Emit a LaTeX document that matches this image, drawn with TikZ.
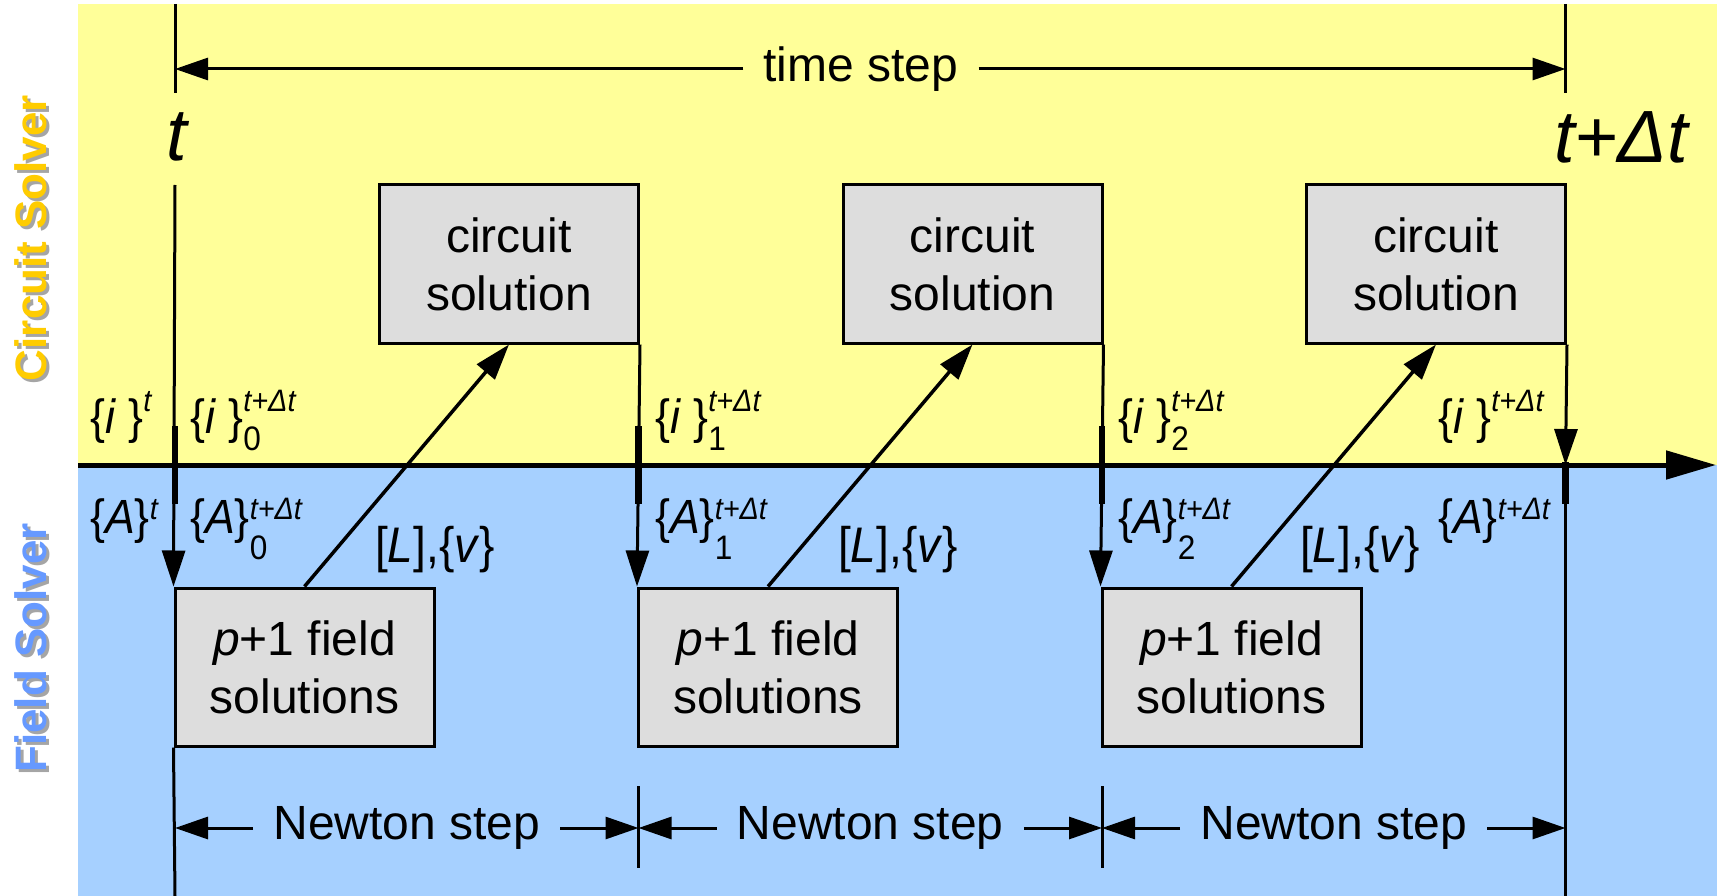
\documentclass[tikz,border=0pt]{standalone}
\usepackage{fontspec}
\setmainfont{Liberation Sans}
\usetikzlibrary{arrows.meta}
\definecolor{bgyellow}{RGB}{255,255,153}
\definecolor{bgblue}{RGB}{166,208,255}
\definecolor{boxgray}{RGB}{221,221,221}
\definecolor{circtext}{RGB}{255,204,0}
\definecolor{fieldtext}{RGB}{102,153,255}
\definecolor{shadowgray}{RGB}{165,165,165}
\newcommand\fsz[1]{\fontsize{#1}{#1}\selectfont}
\newcommand\lsup[2]{\raisebox{#1pt}{\fsz{31}\textit{#2}}}
\newcommand\lsupsub[4]{\rlap{\raisebox{#1pt}{\fsz{31}\textit{#3}}}\raisebox{-#2pt}{\fsz{34}#4}}
\begin{document}
\begin{tikzpicture}[x=1pt,y=-1pt,
  vline/.style={line width=3pt},
  thickseg/.style={line width=6.5pt},
  arrv/.style={-{Triangle[length=36pt,width=23pt]}},
  arrh/.style={-{Triangle[length=33pt,width=22pt]}},
  solbox/.style={draw, line width=3pt, fill=boxgray, minimum width=259pt, minimum height=158pt, inner sep=0pt, align=center, font=\fontsize{48}{58}\selectfont},
  steplabel/.style={inner xsep=20pt, inner ysep=0pt, font=\fsz{48}},
  lab/.style={anchor=base west, inner sep=0pt, font=\fsz{48}, xscale=0.93},
  labL/.style={anchor=base west, inner sep=0pt, font=\fsz{50}, xscale=0.92},
  timelabel/.style={inner sep=0pt, font=\fsz{74}\itshape},
  sidelabel/.style={rotate=90, inner sep=0pt, font=\fsz{44}\bfseries}]
\useasboundingbox (0,0) rectangle (1717,896);
% backgrounds
\fill[bgyellow] (78,4) rectangle (1717,465);
\fill[bgblue] (78,465) rectangle (1717,896);
% side labels
\node[sidelabel, text=shadowgray] at (34,241) {Circuit Solver};
\node[sidelabel, text=circtext] (cs) at (31,238) {Circuit Solver};
\node[sidelabel, text=shadowgray] at (34,651) {Field Solver};
\node[sidelabel, text=fieldtext] (fs) at (31,648) {Field Solver};
% axis
\coordinate (axL) at (78,465);
\coordinate (axR) at (1716,465);
\draw[line width=5pt, -{Triangle[length=50pt,width=28pt]}] (axL) -- (axR);
% boxes
\node[solbox] (c1) at (509,264) {circuit\\solution};
\node[solbox] (c2) at (972.5,264) {circuit\\solution};
\node[solbox] (c3) at (1436,264) {circuit\\solution};
\node[solbox] (f1) at (304.5,667) {\textit{p}+1 field\\solutions};
\node[solbox] (f2) at (768,667) {\textit{p}+1 field\\solutions};
\node[solbox] (f3) at (1231.5,667) {\textit{p}+1 field\\solutions};
% time labels
\node[timelabel] (tA) at (177,137) {t};
\node[timelabel] (tB) at (1621,137) {t+Δt};
% coordinates
\coordinate (a0) at (175,4);   \coordinate (b0) at (175,93);
\coordinate (d0) at (175,185); \coordinate (e0) at (175,896);
\coordinate (a3) at (1565.5,4);  \coordinate (b3) at (1565.5,93);
\coordinate (m3) at (1565.5,465); \coordinate (e3) at (1565.5,896);
\coordinate (k1a) at (638.5,786); \coordinate (k1b) at (638.5,868);
\coordinate (k2a) at (1102,786);  \coordinate (k2b) at (1102,868);
% vertical lines
\draw[vline] (a0) -- (b0);
\draw[vline, arrv] (d0) -- (f1.north west);
\draw[vline] (f1.south west) -- (e0);
\draw[vline, arrv] (c1.south east) -- (f2.north west);
\draw[vline, arrv] (c2.south east) -- (f3.north west);
\draw[vline] (k1a) -- (k1b);
\draw[vline] (k2a) -- (k2b);
\draw[vline] (a3) -- (b3);
\draw[vline, arrv] (c3.south east) -- (m3);
\draw[vline] (m3) -- (e3);
% thick segments at the axis
\foreach \xx in {175,638.5,1102}{\draw[thickseg] (\xx,426) -- (\xx,504);}
\draw[thickseg] (1565.5,462) -- (1565.5,504);
% diagonal arrows
\draw[line width=3.5pt, arrv] (f1.north) -- (c1.south);
\draw[line width=3.5pt, arrv] (f2.north) -- (c2.south);
\draw[line width=3.5pt, arrv] (f3.north) -- (c3.south);
% time step
\node[steplabel] (ts) at (861,69) {time step};
\coordinate (ts0) at (175,69); \coordinate (ts1) at (1565.5,69);
\draw[vline, arrh] (ts.west) -- (ts0);
\draw[vline, arrh] (ts.east) -- (ts1);
% newton steps
\node[steplabel] (n1) at (406.75,828) {Newton step};
\node[steplabel] (n2) at (870.25,828) {Newton step};
\node[steplabel] (n3) at (1333.75,828) {Newton step};
\coordinate (p0) at (175,828); \coordinate (p1) at (638.5,828);
\coordinate (p2) at (1102,828); \coordinate (p3) at (1565.5,828);
\draw[vline, arrh] (n1.west) -- (p0);
\draw[vline, arrh] (n1.east) -- (p1);
\draw[vline, arrh] (n2.west) -- (p1);
\draw[vline, arrh] (n2.east) -- (p2);
\draw[vline, arrh] (n3.west) -- (p2);
\draw[vline, arrh] (n3.east) -- (p3);
% labels: currents
\node[lab] (li0) at (90,433) {\{\textit{i} \}\lsup{22}{t}};
\node[lab] (li1) at (190,433) {\{\textit{i} \}\lsupsub{22}{17}{t+Δt}{0}};
\node[lab] (li2) at (655,433) {\{\textit{i} \}\lsupsub{22}{17}{t+Δt}{1}};
\node[lab] (li3) at (1118,433) {\{\textit{i} \}\lsupsub{22}{17}{t+Δt}{2}};
\node[lab] (li4) at (1438,433) {\{\textit{i} \}\lsup{22}{t+Δt}};
% labels: potentials
\node[lab] (la0) at (90,533) {\{\textit{A}\}\lsup{14}{t}};
\node[lab] (la1) at (190,533) {\{\textit{A}\}\lsupsub{14}{26}{t+Δt}{0}};
\node[lab] (la2) at (655,533) {\{\textit{A}\}\lsupsub{14}{26}{t+Δt}{1}};
\node[lab] (la3) at (1118,533) {\{\textit{A}\}\lsupsub{14}{26}{t+Δt}{2}};
\node[lab] (la4) at (1438,533) {\{\textit{A}\}\lsup{14}{t+Δt}};
% labels: [L],{v}
\node[labL] (lv1) at (375,562) {[\textit{L}],\{\textit{v}\}};
\node[labL] (lv2) at (838,562) {[\textit{L}],\{\textit{v}\}};
\node[labL] (lv3) at (1300,562) {[\textit{L}],\{\textit{v}\}};
\end{tikzpicture}
\end{document}
